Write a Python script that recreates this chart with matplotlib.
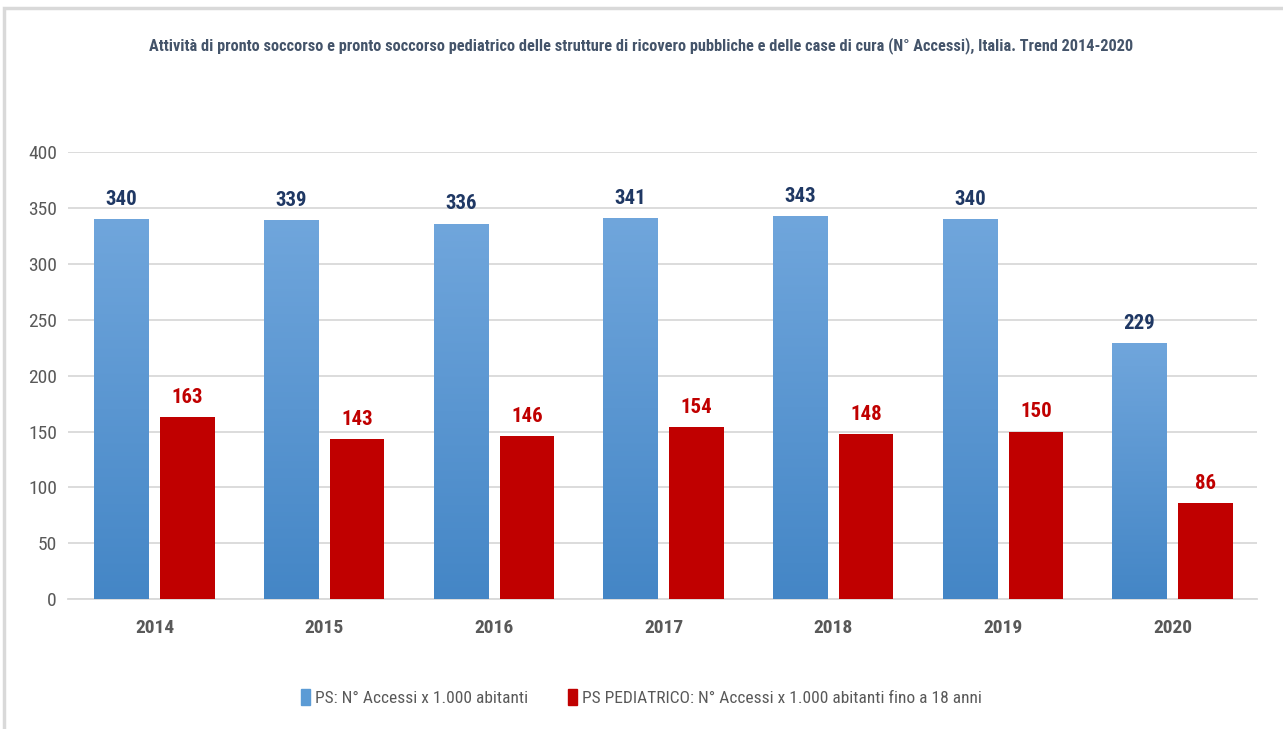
import matplotlib
matplotlib.use("Agg")
import matplotlib.pyplot as plt
import matplotlib.font_manager as fm
import numpy as np
from matplotlib.patches import Rectangle

years = ["2014", "2015", "2016", "2017", "2018", "2019", "2020"]
ps = [340, 339, 336, 341, 343, 340, 229]
ps_ped = [163, 143, 146, 154, 148, 150, 86]
label_ps = "PS: N° Accessi x 1.000 abitanti"
label_ped = "PS PEDIATRICO: N° Accessi x 1.000 abitanti fino a 18 anni"
title = ("Attività di pronto soccorso e pronto soccorso pediatrico delle strutture di ricovero "
         "pubbliche e delle case di cura (N° Accessi), Italia. Trend 2014-2020")

# the reference text looks like a squeezed Calibri: take a condensed face if one is installed
installed = set(f.name for f in fm.fontManager.ttflist)
prefs = ["Roboto Condensed", "Open Sans Condensed", "PT Sans Narrow", "Fira Sans Condensed",
         "Sofia Sans Semi Condensed", "Asap Condensed", "Carlito"]
narrow = next((f for f in prefs if f in installed), "DejaVu Sans")
plt.rcParams['font.family'] = [narrow, 'DejaVu Sans']

fig = plt.figure(figsize=(12.83, 7.29), dpi=100)
ax = fig.add_axes([0.053, 0.178, 0.927, 0.6135])

x = np.arange(len(years))
w = 0.32
off = 0.195
b1 = ax.bar(x - off, ps, w, color="#5b9bd5", zorder=3)
b2 = ax.bar(x + off, ps_ped, w, color="#c00000", zorder=3)

# vertical gradient on blue bars
grad = np.linspace(0, 1, 256).reshape(-1, 1)
cmap = matplotlib.colors.LinearSegmentedColormap.from_list("g", ["#4486c6", "#70a6dc"])
for p in b1:
    p.set_facecolor("none")
    bx, by = p.get_x(), p.get_y()
    bw, bh = p.get_width(), p.get_height()
    im = ax.imshow(grad, cmap=cmap, origin="lower", aspect="auto",
                   extent=[bx, bx + bw, by, by + bh], zorder=3)
    im.set_clip_path(p)

for i in range(len(years)):
    ax.text(x[i] - off, ps[i] + 9, str(ps[i]), ha="center", va="bottom",
            fontsize=15, fontweight="bold", color="#1f3864")
    ax.text(x[i] + off, ps_ped[i] + 9, str(ps_ped[i]), ha="center", va="bottom",
            fontsize=15, fontweight="bold", color="#c00000")

ax.set_xlim(-0.51, 6.5)
ax.set_ylim(0, 400)
ax.set_yticks(range(0, 401, 50))
ax.set_xticks(x)
ax.set_xticklabels(years, fontsize=14, fontweight="bold", color="#595959")
ax.tick_params(axis="y", labelsize=14, labelcolor="#595959", length=0, pad=8)
ax.tick_params(axis="x", length=0, pad=14)
ax.grid(axis="y", color="#d9d9d9", linewidth=1.3, zorder=0)
for s in ["top", "right", "left"]:
    ax.spines[s].set_visible(False)
ax.spines["bottom"].set_color("#d9d9d9")
ax.spines["bottom"].set_linewidth(1.3)

t = fig.text(0.5, 0.938, title, ha="center", va="center", fontsize=14,
             color="#44546a", fontweight="bold")
# fit the title to the reference width (~980 px)
r = fig.canvas.get_renderer()
tw = t.get_window_extent(r).width
t.set_fontsize(14 * 980 / tw)

h1 = Rectangle((0, 0), 1, 1, color="#5b9bd5")
h2 = Rectangle((0, 0), 1, 1, color="#c00000")
fig.legend([h1, h2], [label_ps, label_ped], loc="center", bbox_to_anchor=(0.5, 0.043),
           ncol=2, frameon=False, fontsize=12.5, handlelength=0.5, handleheight=1.0,
           handletextpad=0.3, columnspacing=2.3, labelcolor="#595959")

fig.patches.append(Rectangle((0.003, -0.01), 1.1, 0.999, transform=fig.transFigure,
                             fill=False, edgecolor="#d9d9d9", linewidth=2.5))

fig.savefig("out.png", dpi=100)
